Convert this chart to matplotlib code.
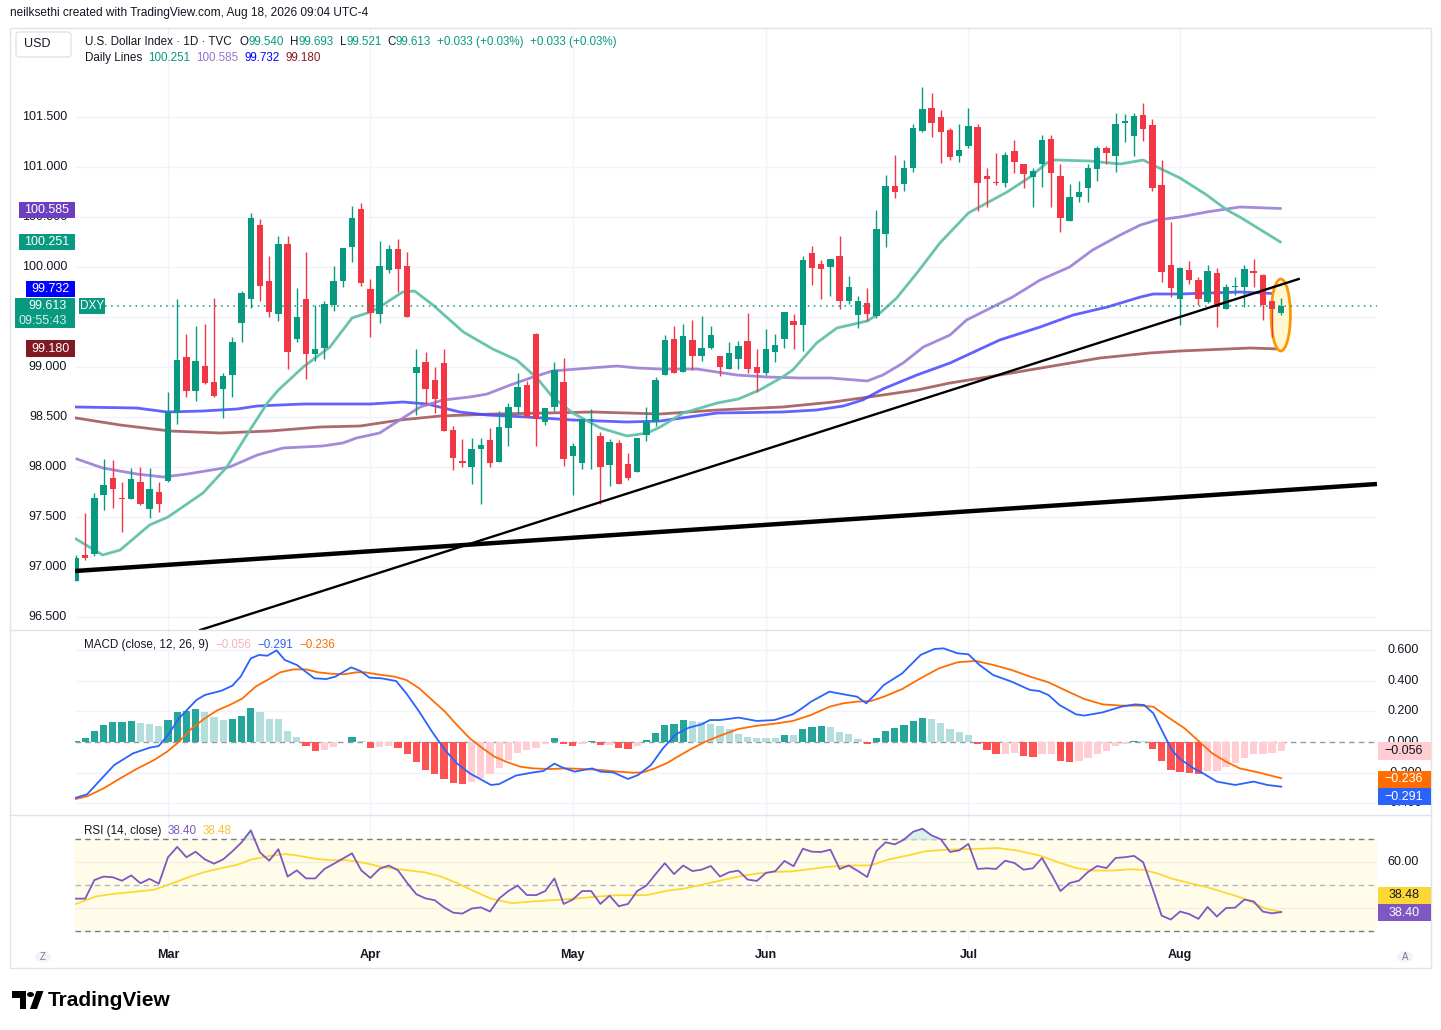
import numpy as np
import pandas as pd
import matplotlib
matplotlib.use("Agg")
import matplotlib.pyplot as plt
import matplotlib.transforms as mtrans
from matplotlib.patches import Rectangle, Ellipse, FancyBboxPatch, Circle, Polygon

plt.rcParams['font.family'] = ['Liberation Sans', 'DejaVu Sans']

W, H = 1441, 1030

# ---------------- data ----------------
dates = pd.bdate_range('2026-02-16', '2026-08-18')

opens = [96.86, 97.12, 97.13, 97.72, 97.89, 97.69, 97.68, 97.85, 97.58, 97.75,
         97.86, 98.54, 99.10, 98.76, 99.01, 98.85, 98.78, 98.92, 99.44, 99.68,
         100.42, 99.86, 99.53, 100.23, 99.28, 99.68, 99.13, 99.19, 99.62, 99.86,
         100.20, 100.58, 99.78, 99.53, 99.97, 100.18, 100.01, 98.94, 99.05, 98.87,
         99.04, 98.37, 98.06, 98.00, 98.18, 98.27, 98.05, 98.39, 98.60, 98.82,
         99.33, 98.45, 98.60, 98.85, 98.11, 98.04, 98.47, 98.31, 98.02, 98.24,
         98.03, 97.95, 98.32, 98.45, 98.92, 99.28, 98.95, 99.27, 99.11, 99.19,
         99.11, 98.98, 99.08, 99.26, 99.00, 98.94, 99.15, 99.28, 99.46, 99.42,
         100.14, 100.03, 100.00, 100.11, 99.66, 99.52, 99.64, 99.51, 100.33, 100.81,
         100.83, 100.99, 101.36, 101.59, 101.50, 101.37, 101.11, 101.21, 101.40, 100.91,
         100.85, 100.84, 101.16, 101.03, 100.90, 101.03, 101.28, 100.91, 100.46, 100.70,
         100.79, 100.98, 101.19, 101.11, 101.44, 101.31, 101.52, 101.42, 100.82, 100.02,
         99.68, 99.97, 99.87, 99.65, 99.94, 99.58, 99.80, 99.80, 99.96, 99.92,
         99.66, 99.54]
highs = [97.12, 97.54, 97.74, 98.08, 98.07, 97.85, 97.99, 98.00, 97.99, 97.85,
         98.75, 99.68, 99.33, 99.41, 99.43, 99.69, 98.94, 99.30, 99.76, 100.54,
         100.48, 100.11, 100.31, 100.31, 99.79, 100.15, 99.62, 99.66, 100.01, 100.19,
         100.61, 100.64, 99.88, 100.26, 100.22, 100.28, 100.15, 99.18, 99.15, 99.00,
         99.18, 98.41, 98.28, 98.29, 98.29, 98.39, 98.56, 98.64, 98.94, 98.86,
         99.34, 98.59, 99.05, 99.09, 98.24, 98.48, 98.58, 98.35, 98.28, 98.27,
         98.14, 98.29, 98.60, 98.90, 99.32, 99.41, 99.43, 99.47, 99.51, 99.41,
         99.11, 99.25, 99.26, 99.54, 99.18, 99.38, 99.33, 99.55, 99.53, 100.11,
         100.21, 100.07, 100.08, 100.31, 99.91, 99.71, 99.79, 100.57, 100.92, 101.12,
         101.07, 101.43, 101.80, 101.74, 101.57, 101.39, 101.43, 101.59, 101.43, 100.99,
         101.14, 101.15, 101.27, 101.03, 100.99, 101.32, 101.32, 101.03, 100.83, 100.86,
         101.03, 101.21, 101.21, 101.54, 101.53, 101.54, 101.64, 101.48, 101.07, 100.45,
         100.00, 100.06, 99.90, 100.02, 99.99, 99.83, 99.90, 100.02, 100.08, 99.93,
         99.66, 99.693]
lows = [96.86, 97.07, 97.11, 97.57, 97.59, 97.35, 97.68, 97.62, 97.49, 97.55,
        97.85, 98.43, 98.70, 98.66, 98.83, 98.70, 98.49, 98.70, 99.25, 99.59,
        99.66, 99.50, 99.46, 98.98, 99.25, 98.88, 99.06, 99.08, 99.56, 99.80,
        100.05, 99.81, 99.30, 99.44, 99.94, 99.75, 99.50, 98.52, 98.62, 98.54,
        98.36, 97.97, 98.00, 97.83, 97.63, 98.00, 98.05, 98.21, 98.53, 98.50,
        98.21, 98.42, 98.56, 98.01, 97.72, 97.98, 97.98, 97.63, 97.81, 97.83,
        97.87, 97.95, 98.26, 98.41, 98.92, 98.94, 98.95, 98.97, 99.06, 99.18,
        98.91, 98.98, 98.98, 98.94, 98.75, 98.92, 99.05, 99.19, 99.18, 99.16,
        99.82, 99.68, 99.71, 99.58, 99.63, 99.39, 99.46, 99.49, 100.20, 100.69,
        100.76, 100.95, 101.35, 101.30, 101.04, 101.07, 101.05, 101.19, 100.56, 100.60,
        100.82, 100.80, 100.94, 100.79, 100.60, 100.80, 100.60, 100.35, 100.46, 100.65,
        100.65, 100.86, 101.03, 100.95, 101.25, 101.11, 101.26, 100.76, 99.85, 99.70,
        99.42, 99.83, 99.62, 99.64, 99.40, 99.58, 99.72, 99.60, 99.80, 99.47,
        99.30, 99.521]
closes = [97.09, 97.09, 97.69, 97.82, 97.78, 97.68, 97.88, 97.63, 97.78, 97.63,
          98.55, 99.07, 98.76, 99.06, 98.84, 98.71, 98.91, 99.25, 99.74, 100.49,
          99.81, 99.55, 100.23, 99.15, 99.50, 99.13, 99.18, 99.63, 99.86, 100.19,
          100.49, 99.84, 99.54, 100.01, 100.18, 99.98, 99.50, 99.00, 98.78, 98.68,
          98.36, 98.09, 98.04, 98.18, 98.22, 98.04, 98.40, 98.60, 98.80, 98.50,
          98.48, 98.59, 98.97, 98.08, 98.21, 98.48, 98.48, 98.00, 98.25, 97.83,
          97.89, 98.29, 98.45, 98.87, 99.27, 98.94, 99.31, 99.11, 99.19, 99.32,
          99.00, 99.14, 99.21, 98.98, 98.94, 99.18, 99.22, 99.55, 99.42, 100.07,
          99.99, 99.98, 100.08, 99.66, 99.80, 99.66, 99.53, 100.38, 100.81, 100.75,
          100.99, 101.39, 101.58, 101.44, 101.35, 101.10, 101.17, 101.41, 100.84, 100.88,
          100.84, 101.12, 101.05, 100.93, 100.96, 101.27, 100.94, 100.49, 100.70, 100.75,
          100.99, 101.19, 101.14, 101.43, 101.46, 101.51, 101.38, 100.79, 99.95, 99.79,
          99.99, 99.87, 99.68, 99.96, 99.60, 99.80, 99.81, 99.98, 99.94, 99.62,
          99.58, 99.613]

# moving averages (bar position, value)
ma20_x = [0, 2.9, 4.8, 8.0, 10.0, 13.8, 16.4, 18.9, 20.8, 22.0, 24.7, 27.6, 30.0, 32.0, 33.0,
          35.5, 36.8, 38.8, 42.1, 45.3, 47.9, 50.1, 51.8, 54.0, 57.0, 59.9, 62.1, 63.5, 66.0,
          69.7, 72.0, 74.3, 76.8, 77.9, 80.5, 82.7, 86.0, 87.4, 89.2, 91.4, 93.9, 97.0, 99.0,
          101.2, 103.7, 105.5, 106.4, 110.2, 113.5, 116.0, 117.5, 120.0, 122.9, 125.1, 126.5, 130.9]
ma20_v = [97.28, 97.12, 97.17, 97.42, 97.50, 97.74, 98.00, 98.37, 98.64, 98.77, 99.00, 99.20, 99.49,
          99.55, 99.60, 99.75, 99.76, 99.62, 99.35, 99.18, 99.07, 98.89, 98.70, 98.54, 98.39, 98.31,
          98.34, 98.40, 98.54, 98.64, 98.68, 98.77, 98.90, 98.97, 99.24, 99.39, 99.46, 99.54, 99.69,
          99.94, 100.24, 100.54, 100.64, 100.75, 100.90, 101.04, 101.07, 101.06, 101.03, 101.07,
          101.00, 100.89, 100.72, 100.57, 100.50, 100.251]
ma50_x = [0.1, 2.9, 6.6, 9.5, 12.1, 16.7, 19.7, 22.5, 26.8, 29.0, 30.5, 33.0, 35.2, 37.4, 39.9,
          42.8, 44.7, 47.2, 49.7, 51.8, 54.5, 58.8, 61.0, 63.5, 67.5, 71.8, 75.1, 78.7, 82.0, 86.0,
          87.7, 89.9, 92.1, 95.0, 96.8, 101.8, 104.8, 108.0, 110.5, 113.5, 115.7, 117.5, 120.0,
          122.9, 126.5, 130.9]
ma50_v = [98.08, 97.99, 97.93, 97.90, 97.93, 98.00, 98.12, 98.19, 98.21, 98.24, 98.29, 98.34, 98.47,
          98.60, 98.67, 98.70, 98.73, 98.82, 98.90, 98.96, 98.98, 99.01, 98.99, 98.98, 98.98, 98.92,
          98.90, 98.89, 98.89, 98.86, 98.92, 99.04, 99.20, 99.32, 99.47, 99.70, 99.87, 100.00,
          100.17, 100.32, 100.42, 100.47, 100.50, 100.55, 100.60, 100.585]
ma100_x = [0, 6.6, 9.9, 13.8, 17.5, 19.7, 24.7, 32.0, 35.5, 38.2, 41.7, 44.7, 49.0, 54.0, 59.9,
           63.5, 69.7, 76.8, 80.5, 83.4, 85.5, 87.7, 91.4, 95.0, 100.4, 104.8, 108.4, 112.1, 115.7,
           117.1, 120.0, 126.5, 130.9]
ma100_v = [98.60, 98.59, 98.55, 98.56, 98.58, 98.61, 98.63, 98.63, 98.65, 98.63, 98.55, 98.52, 98.50,
           98.47, 98.45, 98.46, 98.54, 98.55, 98.57, 98.61, 98.67, 98.78, 98.92, 99.04, 99.27, 99.40,
           99.52, 99.60, 99.70, 99.73, 99.73, 99.75, 99.732]
ma200_x = [0, 4.8, 10.2, 15.7, 21.1, 26.5, 30.9, 35.2, 39.6, 45.3, 51.2, 56.2, 59.9, 63.5, 69.7,
           76.8, 82.3, 87.7, 91.4, 95.0, 100.4, 111.3, 116.7, 120.0, 127.6, 130.9]
ma200_v = [98.49, 98.42, 98.36, 98.34, 98.36, 98.40, 98.41, 98.47, 98.51, 98.53, 98.54, 98.55, 98.54,
           98.53, 98.57, 98.60, 98.65, 98.72, 98.77, 98.84, 98.92, 99.09, 99.14, 99.16, 99.19, 99.18]

# drawn trend lines (bar position, price)
trend_thick = ([-0.1, 141.4], [96.96, 97.83])
trend_thin = ([13.5, 132.9], [96.37, 99.88])

# MACD (12, 26, 9)
hist = [0.007, 0.028, 0.072, 0.110, 0.130, 0.132, 0.137, 0.124, 0.115, 0.106,
        0.143, 0.195, 0.202, 0.215, 0.195, 0.163, 0.143, 0.152, 0.169, 0.221,
        0.195, 0.150, 0.148, 0.072, 0.035, -0.024, -0.059, -0.052, -0.033, 0.002,
        0.033, 0.007, -0.037, -0.035, -0.024, -0.037, -0.076, -0.128, -0.182, -0.210,
        -0.241, -0.265, -0.274, -0.258, -0.232, -0.210, -0.167, -0.117, -0.072, -0.052,
        -0.037, -0.015, 0.024, -0.011, -0.024, -0.011, 0.007, -0.022, -0.017, -0.037,
        -0.043, -0.024, 0.013, 0.059, 0.111, 0.115, 0.141, 0.137, 0.130, 0.119,
        0.106, 0.085, 0.052, 0.035, 0.028, 0.027, 0.026, 0.048, 0.046, 0.087,
        0.100, 0.104, 0.100, 0.065, 0.050, 0.020, -0.013, 0.028, 0.072, 0.091,
        0.113, 0.139, 0.159, 0.152, 0.124, 0.085, 0.063, 0.043, -0.013, -0.052,
        -0.078, -0.076, -0.074, -0.089, -0.096, -0.078, -0.076, -0.124, -0.130, -0.124,
        -0.102, -0.078, -0.059, -0.028, -0.011, 0.007, 0.006, -0.043, -0.124, -0.182,
        -0.198, -0.204, -0.206, -0.189, -0.187, -0.161, -0.135, -0.106, -0.078, -0.076,
        -0.069, -0.056]
macd_x = [0, 1.2, 4.15, 6.2, 8.0, 9.0, 10.0, 11.2, 13.1, 14.0, 15.8, 17.0, 17.9, 19.0, 19.9,
          20.8, 21.8, 22.7, 24.0, 25.9, 27.2, 28.2, 29.1, 29.9, 30.9, 31.9, 33.2, 34.8, 35.9,
          37.3, 38.7, 40.1, 41.4, 42.8, 45.1, 46.0, 47.8, 49.7, 50.8, 52.0, 52.9, 54.2, 56.1,
          57.0, 58.4, 60.0, 61.1, 62.5, 63.8, 65.2, 66.6, 68.0, 68.9,
          70.0, 72.0, 74.0, 75.9, 77.9, 78.9, 79.9, 81.9, 83.4, 84.9, 85.9, 86.8, 87.8, 89.8,
          91.8, 93.3, 94.3, 95.8, 97.0, 98.2, 99.7, 101.7, 103.7, 104.7, 105.7, 106.9, 108.7,
          109.6, 111.6, 113.6, 115.1, 116.1, 117.1, 118.1, 119.1, 120.0, 121.5, 122.5, 124.0,
          126.0, 128.0, 129.5, 131.0]
macd_v = [-0.363, -0.341, -0.150, -0.074, -0.037, -0.026, 0.046, 0.154, 0.274, 0.306, 0.334,
          0.367, 0.426, 0.545, 0.567, 0.562, 0.597, 0.534, 0.502, 0.415, 0.410, 0.426, 0.458,
          0.486, 0.463, 0.419, 0.415, 0.397, 0.317, 0.198, 0.067, -0.052, -0.139, -0.204, -0.280,
          -0.274, -0.219, -0.198, -0.189, -0.141, -0.167, -0.193, -0.172, -0.193, -0.198, -0.241,
          -0.215, -0.150, -0.041, 0.050, 0.093, 0.115, 0.143,
          0.143, 0.159, 0.137, 0.143, 0.180, 0.219, 0.263, 0.328, 0.311, 0.295, 0.252, 0.306,
          0.371, 0.447, 0.567, 0.606, 0.610, 0.578, 0.571, 0.502, 0.436, 0.393, 0.339, 0.332,
          0.306, 0.241, 0.180, 0.172, 0.193, 0.230, 0.245, 0.241, 0.187, 0.067, -0.052, -0.111,
          -0.172, -0.204, -0.258, -0.280, -0.258, -0.280, -0.291]
signal_x = [0, 1.2, 3.0, 4.8, 6.7, 8.5, 9.9, 11.2, 12.6, 14.0, 15.4, 16.7, 18.1, 19.5, 20.8,
            22.2, 23.6, 25.0, 26.3, 27.7, 29.1, 30.5, 31.4, 32.7, 34.6, 35.9, 37.3, 38.7, 40.1,
            41.4, 42.8, 44.2, 45.5, 46.9, 48.3, 49.7, 51.5, 53.3, 55.2, 57.0, 58.8, 60.6, 61.6,
            62.9, 64.3, 65.7, 67.0, 68.4,
            70, 72, 74, 75.9, 77.9, 79.9, 81.9, 83.4, 84.9, 86.4, 87.8, 89.8, 91.8, 93.8, 95.8,
            97.8, 99.7, 101.7, 103.7, 105.7, 107.7, 109.6, 111.6, 113.6, 115.6, 117.1, 118.6,
            120.5, 122.0, 123.5, 125.0, 126.5, 128.5, 131.0]
signal_v = [-0.371, -0.354, -0.302, -0.237, -0.172, -0.117, -0.063, 0.002, 0.089, 0.154, 0.208,
            0.241, 0.284, 0.360, 0.404, 0.454, 0.473, 0.473, 0.454, 0.445, 0.441, 0.454, 0.454,
            0.441, 0.426, 0.404, 0.350, 0.274, 0.198, 0.111, 0.024, -0.041, -0.096, -0.132,
            -0.161, -0.172, -0.176, -0.172, -0.176, -0.182, -0.193, -0.200, -0.198, -0.172,
            -0.135, -0.085, -0.041, 0.002,
            0.041, 0.085, 0.106, 0.119, 0.137, 0.176, 0.230, 0.252, 0.263, 0.267, 0.295, 0.345,
            0.415, 0.480, 0.519, 0.528, 0.502, 0.469, 0.426, 0.389, 0.332, 0.280, 0.245, 0.237,
            0.237, 0.230, 0.165, 0.089, 0.007, -0.074, -0.128, -0.172, -0.198, -0.236]

# RSI (14)
rsi = [44.2, 44.2, 52.3, 53.8, 53.5, 52.0, 54.3, 50.9, 52.8, 50.7,
       62.2, 66.7, 62.2, 64.6, 61.3, 59.4, 61.3, 64.8, 68.7, 73.9,
       64.3, 60.7, 65.7, 53.8, 56.5, 53.0, 53.0, 57.1, 59.3, 61.6,
       63.9, 56.5, 53.2, 57.2, 58.6, 56.5, 51.0, 46.1, 44.3, 43.5,
       40.4, 38.1, 37.7, 39.9, 40.4, 38.6, 44.3, 47.5, 49.9, 45.8,
       45.7, 47.5, 53.0, 41.9, 43.8, 47.5, 47.5, 41.9, 45.5, 40.9,
       41.9, 47.5, 49.9, 54.9, 59.6, 54.9, 58.6, 56.2, 56.8, 58.4,
       53.8, 55.7, 56.4, 52.5, 51.9, 55.4, 56.1, 60.6, 58.3, 65.9,
       64.6, 64.5, 65.5, 57.1, 58.6, 56.2, 53.6, 64.9, 68.7, 67.8,
       69.9, 73.3, 74.6, 71.7, 70.0, 64.5, 65.2, 68.0, 57.1, 57.4,
       57.1, 60.7, 59.7, 56.8, 57.4, 61.9, 54.9, 47.5, 51.0, 52.0,
       55.8, 58.4, 57.5, 61.9, 62.2, 62.8, 60.0, 48.8, 36.8, 35.1,
       38.6, 37.5, 35.4, 40.6, 36.4, 40.1, 40.3, 43.8, 43.0, 38.6,
       37.8, 38.40]
rsima_x = [0, 2.1, 3.9, 6.2, 8.5, 10.3, 12.2, 14.0, 15.4, 17.6, 19.0, 20.8, 22.7, 24.0, 25.9,
           27.7, 29.5, 31.4, 33.2, 35.5, 37.8, 39.6, 41.4, 43.3, 45.1, 47.4, 49.7, 52.0, 54.2,
           57.0, 58.8, 62.0, 64.3, 66.1, 68.4,
           70, 72, 74, 75.9, 77.9, 79.9, 81.9, 83.9, 86.4, 88.3, 90.8, 92.3, 94.3, 96.3, 98.2,
           100.2, 102.2, 104.7, 106.7, 108.7, 110.6, 112.6, 114.6, 116.1, 117.6, 119.1, 121.0,
           123.0, 125.0, 127.0, 128.5, 129.5, 131.0]
rsima_v = [41.9, 45.1, 46.2, 47.1, 48.1, 50.6, 53.5, 55.8, 57.1, 59.0, 61.2, 62.6, 63.6, 63.0,
           61.6, 60.9, 60.9, 59.7, 58.0, 56.8, 55.7, 53.9, 51.0, 47.4, 44.2, 42.2, 43.0, 43.6,
           44.2, 45.2, 45.7, 45.7, 47.7, 48.6, 50.6,
           52.0, 53.8, 55.1, 55.8, 56.1, 57.1, 58.1, 58.6, 58.7, 61.2, 63.3, 64.8, 65.4, 65.7,
           65.9, 66.2, 65.2, 63.0, 60.1, 57.5, 56.4, 56.4, 57.0, 56.7, 55.1, 52.9, 51.0, 49.1,
           46.7, 44.2, 41.3, 39.6, 38.48]

price_ticks = [96.5, 97.0, 97.5, 98.0, 98.5, 99.0, 99.5, 100.0, 100.5, 101.0, 101.5]
price_tick_labels_shown = [96.5, 97.0, 97.5, 98.0, 98.5, 99.0, 100.0, 100.5, 101.0, 101.5]
macd_ticks = [0.6, 0.4, 0.2, 0.0, -0.2, -0.4]
rsi_tick_labels_shown = [60]
last_price = 99.613

# ---------------- styles ----------------
UP, DN = '#089981', '#f23645'
GRID = '#f0f3fa'
TXT = '#131722'
XMIN, XMAX = -0.109, 141.41
HS = 8.4  # header font size

fig = plt.figure(figsize=(W / 100, H / 100), dpi=100)
fig.patch.set_facecolor('white')


def R(x0, y0, x1, y1):
    return [x0 / W, 1 - y1 / H, (x1 - x0) / W, (y1 - y0) / H]


def F(x, y):
    return (x / W, 1 - y / H)


def ftext(x, y, s, **kw):
    kw.setdefault('fontsize', 9)
    kw.setdefault('color', TXT)
    kw.setdefault('va', 'center')
    return fig.text(x / W, 1 - y / H, s, **kw)


def fbox(x0, y0, x1, y1, fc, z=4):
    fig.add_artist(Rectangle(F(x0, y1), (x1 - x0) / W, (y1 - y0) / H,
                             transform=fig.transFigure, fc=fc, ec='none', zorder=z))


ax = fig.add_axes(R(75, 28, 1377, 630))
ax2 = fig.add_axes(R(75, 630, 1377, 815))
ax3 = fig.add_axes(R(75, 815, 1377, 942))
for a in (ax, ax2, ax3):
    a.set_xlim(XMIN, XMAX)
    a.set_xticks([])
    a.set_yticks([])
    for s in a.spines.values():
        s.set_visible(False)
    a.patch.set_alpha(0)

ax.set_ylim(96.37, 102.39)
ax2.set_ylim(-0.4756, 0.7296)
ax3.set_ylim(25.35, 80.57)

n = len(closes)
idx = np.arange(n)
month_pos = [i for i in range(1, n) if dates[i].month != dates[i - 1].month]

for a in (ax, ax2, ax3):
    for m in month_pos:
        a.axvline(m, color=GRID, lw=1, zorder=0)
for p in price_ticks:
    ax.axhline(p, color=GRID, lw=1, zorder=0)
for v in macd_ticks:
    if v != 0:
        ax2.axhline(v, color=GRID, lw=1, zorder=0)
for v in (60, 40):
    ax3.axhline(v, color='#f3efdc', lw=1, zorder=0.5)

# ---------------- main pane ----------------
ax.plot(ma200_x, ma200_v, color='#a35a5d', lw=2, alpha=0.9, zorder=2)
ax.plot(ma100_x, ma100_v, color='#4646ff', lw=2, alpha=0.85, zorder=2)
ax.plot(ma50_x, ma50_v, color='#9b7dd6', lw=2, alpha=0.9, zorder=2)
ax.plot(ma20_x, ma20_v, color='#62c1a9', lw=2, alpha=0.95, zorder=2)

ax.add_patch(Ellipse((130.95, 99.52), 2.1, 0.72, fc='#fff7d1', ec='#ff9800', lw=2, zorder=2.5))

for i in range(n):
    o, h, l, c = opens[i], highs[i], lows[i], closes[i]
    col = UP if c >= o else DN
    ax.vlines(i, l, h, color=col, lw=1, zorder=3)
    ax.bar(i, max(abs(c - o), 0.01), bottom=min(o, c), width=0.7, color=col, zorder=3.1)

ax.plot(trend_thick[0], trend_thick[1], color='black', lw=3.2, zorder=5, solid_capstyle='butt')
ax.plot(trend_thin[0], trend_thin[1], color='black', lw=1.7, zorder=5)
ax.hlines(last_price, 3.1, XMAX, colors=UP, linestyles=(0, (1, 3)), lw=1.1, zorder=4)

# left price scale
ty = mtrans.blended_transform_factory(fig.transFigure, ax.transData)
for p in price_tick_labels_shown:
    fig.text(67 / W, p, f'{p:.3f}', transform=ty, ha='right', va='center', fontsize=9, color=TXT, zorder=3)

fbox(19, 202, 75, 218, '#6c3fc1')
ftext(47, 210, '100.585', ha='center', color='white', zorder=5)
fbox(19, 234, 75, 250, UP)
ftext(47, 242, '100.251', ha='center', color='white', zorder=5)
fbox(26, 281, 75, 297, '#0000ff')
ftext(50, 289, '99.732', ha='center', color='white', zorder=5)
fbox(15, 298, 75, 328, UP)
ftext(67, 306, '99.613', ha='right', color='white', zorder=5)
ftext(67, 321, '09:55:43', ha='right', color='#d6f1ea', zorder=5)
fbox(79, 298, 105, 314, UP)
ftext(92, 306, 'DXY', ha='center', color='white', fontsize=8.5, zorder=5)
fbox(26, 340, 75, 357, '#801922')
ftext(50, 349, '99.180', ha='center', color='white', zorder=5)

# header texts
renderer = fig.canvas.get_renderer()


def seq(x, y, pieces, size=HS):
    for s, col, gap in pieces:
        t = ftext(x, y, s, color=col, fontsize=size, ha='left', zorder=6)
        x += t.get_window_extent(renderer=renderer).width + gap


ftext(10, 13, 'neilksethi created with TradingView.com, Aug 18, 2026 09:04 UTC-4', ha='left', fontsize=8.6)
fig.add_artist(FancyBboxPatch(F(16, 57), 55 / W, 25 / H, boxstyle='round,pad=0,rounding_size=0.003',
                              transform=fig.transFigure, fc='white', ec='#e0e3eb', lw=1, zorder=4))
ftext(24, 44, 'USD', ha='left', zorder=5)
seq(85, 42, [('U.S. Dollar Index · 1D · TVC', TXT, 8), ('O', TXT, 0), ('99.540', UP, 6),
             ('H', TXT, 0), ('99.693', UP, 6), ('L', TXT, 0), ('99.521', UP, 6),
             ('C', TXT, 0), ('99.613', UP, 6), ('+0.033 (+0.03%)', UP, 6), ('+0.033 (+0.03%)', UP, 0)])
seq(85, 58, [('Daily Lines', TXT, 6), ('100.251', UP, 6), ('100.585', '#9575cd', 6),
             ('99.732', '#0000ff', 6), ('99.180', '#8b1a22', 0)])

# ---------------- MACD pane ----------------
hcol = []
for i, hv in enumerate(hist):
    prev = hist[i - 1] if i > 0 else -1
    if hv >= 0:
        hcol.append('#26a69a' if hv > prev else '#b2dfdb')
    else:
        hcol.append('#ff5252' if hv < prev else '#ffcdd2')
ax2.bar(idx, hist, width=0.8, color=hcol, zorder=2)
ax2.axhline(0, color='#9598a1', lw=1, ls=(0, (4, 3)), zorder=1)
ax2.plot(signal_x, signal_v, color='#ff6d00', lw=1.3, zorder=3)
ax2.plot(macd_x, macd_v, color='#2962ff', lw=1.3, zorder=4)

tm = mtrans.blended_transform_factory(fig.transFigure, ax2.transData)
for v in macd_ticks:
    fig.text(1403 / W, v, f'{v:.3f}'.replace('-', '−'), transform=tm, ha='center', va='center',
             fontsize=9, color=TXT, zorder=3)
fbox(1378, 742, 1431, 760, '#ffcdd2')
ftext(1404, 751, '−0.056', ha='center', color=TXT, zorder=5)
fbox(1378, 771, 1431, 788, '#ff6d00')
ftext(1404, 779.5, '−0.236', ha='center', color='white', zorder=5)
fbox(1378, 788, 1431, 805, '#2962ff')
ftext(1404, 796.5, '−0.291', ha='center', color='white', zorder=5)
seq(84, 645, [('MACD (close, 12, 26, 9)', TXT, 7), ('−0.056', '#f6b3bb', 6),
              ('−0.291', '#2962ff', 6), ('−0.236', '#ff6d00', 0)])

# ---------------- RSI pane ----------------
ax3.axhspan(30, 70, color='#fffdea', zorder=0.2)
for v, c in ((70, '#787b86'), (30, '#787b86'), (50, '#b2b5be')):
    ax3.axhline(v, color=c, lw=1, ls=(0, (4, 3)), zorder=1)
rs = np.array(rsi)
ax3.fill_between(idx, 70, rs, where=rs > 70, interpolate=True, color='#cfeee0', alpha=0.7, zorder=1.5)
ax3.plot(rsima_x, rsima_v, color='#fdd835', lw=1.3, zorder=2)
ax3.plot(idx, rsi, color='#7e57c2', lw=1.3, zorder=3)

tr = mtrans.blended_transform_factory(fig.transFigure, ax3.transData)
for v in rsi_tick_labels_shown:
    fig.text(1403 / W, v, f'{v:.2f}', transform=tr, ha='center', va='center', fontsize=9, color=TXT, zorder=3)
fbox(1378, 887, 1431, 904, '#fdd835')
ftext(1404, 895.5, '38.48', ha='center', color=TXT, zorder=5)
fbox(1378, 904, 1431, 921, '#7e57c2')
ftext(1404, 912.5, '38.40', ha='center', color='white', zorder=5)
seq(84, 831, [('RSI (14, close)', TXT, 6), ('38.40', '#7e57c2', 6), ('38.48', '#f9c22e', 0)])

# ---------------- date axis & frame ----------------
td = mtrans.blended_transform_factory(ax3.transData, fig.transFigure)
for m in month_pos:
    fig.text(m, 1 - 955 / H, dates[m].strftime('%b'), transform=td, ha='center', va='center',
             fontsize=9, color=TXT, fontweight='bold')

for yy in (630, 815):
    fig.add_artist(plt.Line2D([10 / W, 1431 / W], [1 - yy / H] * 2, transform=fig.transFigure,
                              color='#e0e3eb', lw=1, zorder=2))
fig.add_artist(Rectangle(F(10, 968), 1421 / W, 940 / H, transform=fig.transFigure,
                         fc='none', ec='#e0e3eb', lw=1, zorder=2))

for cx, s in ((43, 'Z'), (1405, 'A')):
    fig.add_artist(Circle(F(cx, 957), 8 / W, transform=fig.transFigure, fc='#f0f3fa', ec='none', zorder=2))
    ftext(cx, 957, s, ha='center', fontsize=7, color='#787b86', zorder=3)

# TradingView logo
fig.add_artist(Polygon([F(12, 991), F(26, 991), F(26, 1009), F(19.5, 1009), F(19.5, 997.5), F(12, 997.5)],
                       closed=True, transform=fig.transFigure, fc='black', ec='none', zorder=3))
fig.add_artist(Circle(F(30.5, 994.5), 3.5 / W, transform=fig.transFigure, fc='black', ec='none', zorder=3))
fig.add_artist(Polygon([F(36.5, 991), F(43.5, 991), F(37, 1009), F(30, 1009)],
                       closed=True, transform=fig.transFigure, fc='black', ec='none', zorder=3))
ftext(48, 1000, 'TradingView', ha='left', fontsize=15, fontweight='bold', color='black')

fig.savefig('out.png', dpi=100, facecolor='white')
